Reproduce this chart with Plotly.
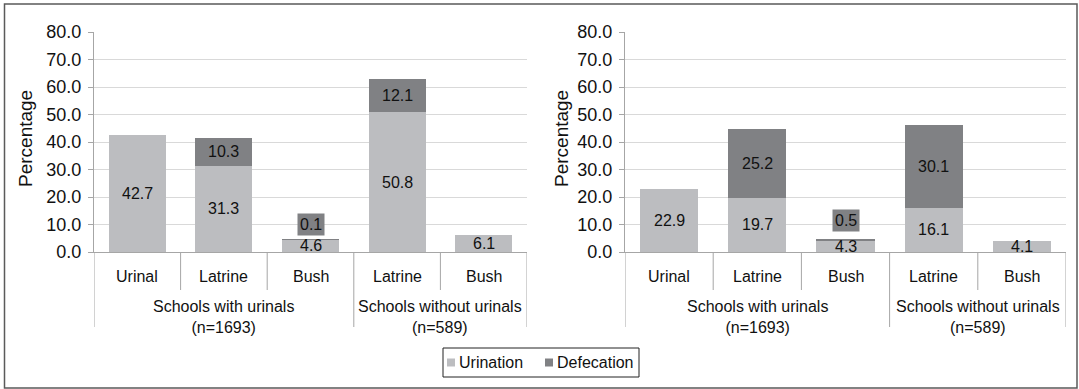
import plotly.graph_objects as go

# ---------------- data ----------------
categories = ["Urinal", "Latrine", "Bush", "Latrine", "Bush"]
groups = ["Schools with urinals<br>(n=1693)", "Schools without urinals<br>(n=589)"]
group_spans = [(0, 3), (3, 5)]
series_names = ["Urination", "Defecation"]

left_urination = [42.7, 31.3, 4.6, 50.8, 6.1]
left_defecation = [None, 10.3, 0.1, 12.1, None]
right_urination = [22.9, 19.7, 4.3, 16.1, 4.1]
right_defecation = [None, 25.2, 0.5, 30.1, None]

y_ticks = [0, 10, 20, 30, 40, 50, 60, 70, 80]

# ---------------- style ----------------
W, H = 1079, 389
C_URI = "#bcbdc0"
C_DEF = "#808184"
GRID = "#d9d9d9"
AXIS = "#a6a6a6"
TXT = "#111111"
FONT = "Liberation Sans, Arial, sans-serif"
BAR_W = 0.66
LABEL_FLOOR = 2.1


def px_x(p):
    return p / W


def px_y(p):
    return (H - p) / H


panels = [
    dict(uri=left_urination, dfc=left_defecation, x0=94, x1=527, title_x=25, box_off=5.3,
         xa="x", ya="y"),
    dict(uri=right_urination, dfc=right_defecation, x0=625, x1=1066, title_x=561, box_off=6.6,
         xa="x2", ya="y2"),
]

PLOT_TOP, PLOT_BOT = 32, 252

fig = go.Figure()
xs = [i + 0.5 for i in range(len(categories))]
annotations = []
shapes = []


def label(x, y, text, xref, yref, size=16, **kw):
    d = dict(x=x, y=y, xref=xref, yref=yref, text=text, showarrow=False,
             xanchor="center", yanchor="middle", font=dict(family=FONT, size=size, color=TXT))
    d.update(kw)
    return d


for k, p in enumerate(panels):
    fig.add_trace(go.Bar(
        x=xs, y=p["uri"], width=BAR_W, name=series_names[0], marker=dict(color=C_URI, line=dict(width=0)),
        xaxis=p["xa"], yaxis=p["ya"], showlegend=False, hoverinfo="skip"))
    fig.add_trace(go.Bar(
        x=xs, y=p["dfc"], width=BAR_W, name=series_names[1], marker=dict(color=C_DEF, line=dict(width=0)),
        xaxis=p["xa"], yaxis=p["ya"], showlegend=False, hoverinfo="skip"))

    # data labels
    for i, (u, d) in enumerate(zip(p["uri"], p["dfc"])):
        annotations.append(label(xs[i], max(u / 2, LABEL_FLOOR), f"{u:.1f}", p["xa"], p["ya"]))
        if d is not None:
            if d >= 3:
                annotations.append(label(xs[i], u + d / 2, f"{d:.1f}", p["xa"], p["ya"]))
            else:
                annotations.append(label(xs[i], u + d + p["box_off"], f"{d:.1f}", p["xa"], p["ya"],
                                         bgcolor=C_DEF, borderpad=2))
        # category labels
        annotations.append(label(xs[i], px_y(276), categories[i], p["xa"], "paper", size=16))

    # group labels
    for g, (a, b) in zip(groups, group_spans):
        annotations.append(label((a + b) / 2, px_y(317), g, p["xa"], "paper", size=16))

    # divider lines
    for j in range(len(categories) + 1):
        long_line = j in (0, 3, 5)
        shapes.append(dict(type="line", xref=p["xa"], yref="paper", x0=j, x1=j,
                           y0=px_y(PLOT_BOT), y1=px_y(327 if long_line else 290),
                           line=dict(color=AXIS, width=1)))

    # y title
    annotations.append(label(px_x(p["title_x"]), px_y(139), "Percentage", "paper", "paper",
                             size=19, textangle=-90))

# manual legend
LEG = dict(x0=443, x1=639, y0=348, y1=377)
shapes.append(dict(type="rect", xref="paper", yref="paper", x0=px_x(LEG["x0"]), x1=px_x(LEG["x1"]),
                   y0=px_y(LEG["y1"]), y1=px_y(LEG["y0"]), line=dict(color="#222", width=1),
                   fillcolor="white"))
leg_items = [(series_names[0], C_URI, 447), (series_names[1], C_DEF, 545)]
ymid = (LEG["y0"] + LEG["y1"]) / 2
for name, col, mx in leg_items:
    shapes.append(dict(type="rect", xref="paper", yref="paper", x0=px_x(mx), x1=px_x(mx + 8),
                       y0=px_y(ymid + 4), y1=px_y(ymid - 4), line=dict(width=0), fillcolor=col))
    annotations.append(label(px_x(mx + 10), px_y(ymid), name, "paper", "paper", size=16,
                             xanchor="left"))

# outer frame
shapes.append(dict(type="rect", xref="paper", yref="paper", x0=px_x(4.5), x1=px_x(1077),
                   y0=px_y(388), y1=px_y(4), line=dict(color="#5a5a5a", width=1.5)))

yax = dict(range=[0, 80], tickvals=y_ticks, tickformat=".1f", showgrid=True, gridcolor=GRID,
           gridwidth=1, showline=True, linecolor=AXIS, linewidth=1, ticks="outside", ticklen=5,
           tickcolor=AXIS, zeroline=False, tickfont=dict(family=FONT, size=18, color=TXT),
           ticklabelstandoff=3, automargin=False,
           domain=[px_y(PLOT_BOT), px_y(PLOT_TOP)], fixedrange=True)
xax = dict(range=[0, 5], showgrid=False, zeroline=False, showticklabels=False, showline=True,
           linecolor=AXIS, linewidth=1, ticks="", automargin=False, fixedrange=True)

fig.update_layout(
    width=W, height=H, barmode="stack", bargap=0, showlegend=False,
    margin=dict(l=0, r=0, t=0, b=0, pad=0, autoexpand=False),
    paper_bgcolor="white", plot_bgcolor="white",
    xaxis=dict(xax, domain=[px_x(panels[0]["x0"]), px_x(panels[0]["x1"])], anchor="y"),
    yaxis=dict(yax, anchor="x"),
    xaxis2=dict(xax, domain=[px_x(panels[1]["x0"]), px_x(panels[1]["x1"])], anchor="y2"),
    yaxis2=dict(yax, anchor="x2"),
    annotations=annotations, shapes=shapes,
)

fig.write_html(
    "out.html",
    config={"displayModeBar": False},
    post_script="document.body.style.margin='0px';document.body.style.padding='0px';"
                "document.documentElement.style.overflow='hidden';",
)
